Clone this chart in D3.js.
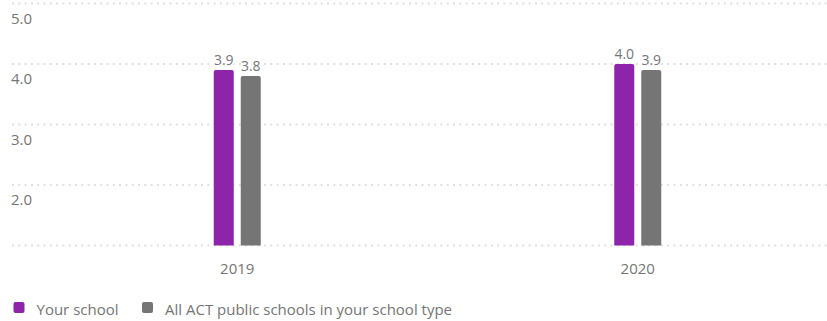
<!DOCTYPE html>
<html>
<head>
<meta charset="utf-8">
<script src="https://d3js.org/d3.v7.min.js"></script>
<style>
  body { margin: 0; background: #fff; }
  text { font-family: "Open Sans", sans-serif; }
</style>
</head>
<body>
<div id="chart"></div>
<script>
var years = ["2019", "2020"];
var seriesNames = ["Your school", "All ACT public schools in your school type"];
var yourSchool = [3.9, 4.0];
var allSchools = [3.8, 3.9];
var yTicks = [1, 2, 3, 4, 5];
var colors = ["#8e24aa", "#757575"];

var width = 827, height = 321;

var svg = d3.select("#chart").append("svg")
    .attr("width", width)
    .attr("height", height);

var x = d3.scaleBand().domain(years).range([37, 838]);
var y = d3.scaleLinear().domain([1, 5]).range([245.5, 3.5]);

var barW = 20, gap = 7;

// dotted gridlines
svg.append("g").selectAll("line")
    .data(yTicks)
    .enter().append("line")
    .attr("x1", 12).attr("x2", width)
    .attr("y1", function (d) { return y(d); })
    .attr("y2", function (d) { return y(d); })
    .attr("stroke", "#e0e0e0")
    .attr("stroke-width", 2)
    .attr("stroke-dasharray", "2,4.3");

// y labels under gridlines (no label on baseline)
svg.append("g").selectAll("text")
    .data(yTicks.filter(function (d) { return d > 1; }))
    .enter().append("text")
    .attr("x", 11)
    .attr("y", function (d) { return y(d) + 20; })
    .attr("fill", "#757575")
    .style("font-size", "15px")
    .text(function (d) { return d.toFixed(1); });

var series = [yourSchool, allSchools];

series.forEach(function (vals, s) {
    var g = svg.append("g");
    var offset = s === 0 ? -(gap / 2 + barW) : gap / 2;
    g.selectAll("path")
        .data(vals)
        .enter().append("path")
        .attr("fill", colors[s])
        .attr("d", function (d, i) {
            var x0 = x(years[i]) + x.bandwidth() / 2 + offset;
            var top = y(d), bot = y(1), r = 2;
            return "M" + x0 + "," + bot +
                "V" + (top + r) +
                "Q" + x0 + "," + top + " " + (x0 + r) + "," + top +
                "H" + (x0 + barW - r) +
                "Q" + (x0 + barW) + "," + top + " " + (x0 + barW) + "," + (top + r) +
                "V" + bot + "Z";
        });
    g.selectAll("text")
        .data(vals)
        .enter().append("text")
        .attr("x", function (d, i) { return x(years[i]) + x.bandwidth() / 2 + offset + barW / 2; })
        .attr("y", function (d) { return y(d) - 5; })
        .attr("text-anchor", "middle")
        .attr("fill", "#757575")
        .attr("stroke", "#fff")
        .attr("stroke-width", 3)
        .attr("paint-order", "stroke")
        .style("font-size", "14px")
        .text(function (d) { return d.toFixed(1); });
});

// x axis labels
svg.append("g").selectAll("text")
    .data(years)
    .enter().append("text")
    .attr("x", function (d) { return x(d) + x.bandwidth() / 2; })
    .attr("y", 274)
    .attr("text-anchor", "middle")
    .attr("fill", "#757575")
    .style("font-size", "15px")
    .text(function (d) { return d; });

// legend
var legendX = [13.5, 142];
var legend = svg.append("g").selectAll("g")
    .data(seriesNames)
    .enter().append("g")
    .attr("transform", function (d, i) { return "translate(" + legendX[i] + ",302)"; });

legend.append("rect")
    .attr("width", 11).attr("height", 11)
    .attr("rx", 2)
    .attr("fill", function (d, i) { return colors[i]; });

legend.append("text")
    .attr("x", 23)
    .attr("y", 13)
    .attr("fill", "#757575")
    .style("font-size", "15px")
    .text(function (d) { return d; });
</script>
</body>
</html>
